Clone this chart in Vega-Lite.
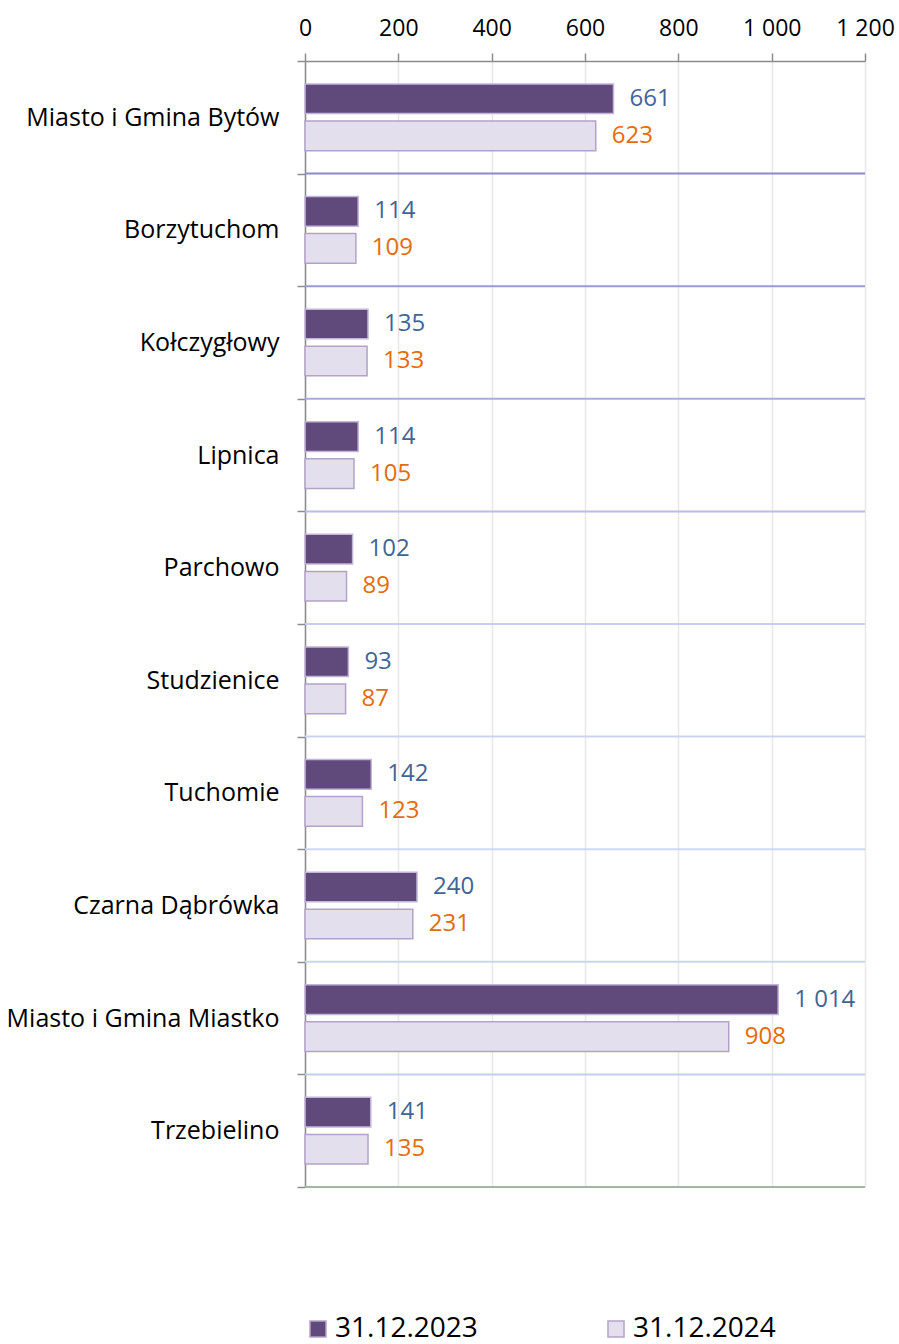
{
  "$schema": "https://vega.github.io/schema/vega-lite/v6.json",
  "width": 560,
  "height": 1126,
  "autosize": "none",
  "padding": {"left": 305, "top": 61, "right": 34, "bottom": 157},
  "config": {
    "view": {"stroke": null},
    "font": "Open Sans",
    "locale": {"number": {"decimal": ",", "thousands": " ", "grouping": [3], "currency": ["", " zł"]}}
  },
  "data": {
    "values": [
      {"gmina": "Miasto i Gmina Bytów", "rok": "31.12.2023", "wartosc": 661},
      {"gmina": "Miasto i Gmina Bytów", "rok": "31.12.2024", "wartosc": 623},
      {"gmina": "Borzytuchom", "rok": "31.12.2023", "wartosc": 114},
      {"gmina": "Borzytuchom", "rok": "31.12.2024", "wartosc": 109},
      {"gmina": "Kołczygłowy", "rok": "31.12.2023", "wartosc": 135},
      {"gmina": "Kołczygłowy", "rok": "31.12.2024", "wartosc": 133},
      {"gmina": "Lipnica", "rok": "31.12.2023", "wartosc": 114},
      {"gmina": "Lipnica", "rok": "31.12.2024", "wartosc": 105},
      {"gmina": "Parchowo", "rok": "31.12.2023", "wartosc": 102},
      {"gmina": "Parchowo", "rok": "31.12.2024", "wartosc": 89},
      {"gmina": "Studzienice", "rok": "31.12.2023", "wartosc": 93},
      {"gmina": "Studzienice", "rok": "31.12.2024", "wartosc": 87},
      {"gmina": "Tuchomie", "rok": "31.12.2023", "wartosc": 142},
      {"gmina": "Tuchomie", "rok": "31.12.2024", "wartosc": 123},
      {"gmina": "Czarna Dąbrówka", "rok": "31.12.2023", "wartosc": 240},
      {"gmina": "Czarna Dąbrówka", "rok": "31.12.2024", "wartosc": 231},
      {"gmina": "Miasto i Gmina Miastko", "rok": "31.12.2023", "wartosc": 1014},
      {"gmina": "Miasto i Gmina Miastko", "rok": "31.12.2024", "wartosc": 908},
      {"gmina": "Trzebielino", "rok": "31.12.2023", "wartosc": 141},
      {"gmina": "Trzebielino", "rok": "31.12.2024", "wartosc": 135}
    ]
  },
  "resolve": {"scale": {"stroke": "independent"}},
  "layer": [
    {
      "mark": {"type": "bar", "strokeWidth": 1.5},
      "encoding": {
        "y": {
          "field": "gmina", "type": "nominal", "sort": null,
          "scale": {"paddingInner": 0, "paddingOuter": 0,
            "domain": ["Miasto i Gmina Bytów", "Borzytuchom", "Kołczygłowy", "Lipnica", "Parchowo", "Studzienice", "Tuchomie", "Czarna Dąbrówka", "Miasto i Gmina Miastko", "Trzebielino"]},
          "axis": {
            "title": null, "orient": "left", "tickBand": "extent", "tickSize": 8,
            "domainColor": "#8c8c8c", "domainWidth": 1.5, "tickColor": "#8c8c8c", "tickWidth": 1.5,
            "labelFontSize": 25, "labelColor": "#000000", "labelPadding": 18, "labelLimit": 400, "grid": false
          }
        },
        "yOffset": {"field": "rok", "type": "nominal", "scale": {"paddingInner": 0.2, "paddingOuter": 0.62}},
        "x": {
          "field": "wartosc", "type": "quantitative",
          "scale": {"domain": [0, 1200], "nice": false},
          "axis": {
            "title": null, "orient": "top", "values": [0, 200, 400, 600, 800, 1000, 1200], "format": ",.0f",
            "tickSize": 8, "domainColor": "#8c8c8c", "domainWidth": 1.5, "tickColor": "#8c8c8c", "tickWidth": 1.5,
            "labelFontSize": 23, "labelColor": "#000000", "labelPadding": 13, "labelFlush": false,
            "grid": true, "gridColor": "#e8e8e8", "gridWidth": 1.5
          }
        },
        "fill": {
          "field": "rok", "type": "nominal",
          "scale": {"range": ["#604a7b", "#e4dfec"]},
          "legend": {
            "title": null, "orient": "none", "direction": "horizontal", "columns": 2,
            "legendX": -1, "legendY": 1254, "padding": 0, "symbolType": "square", "symbolSize": 256,
            "symbolStrokeWidth": 1.5, "symbolStrokeColor": "#b3a2c7", "labelFontSize": 28, "labelColor": "#000000",
            "columnPadding": 124, "labelOffset": 3
          }
        },
        "stroke": {
          "field": "rok", "type": "nominal",
          "scale": {"range": ["#c3b5d9", "#b3a2c7"]},
          "legend": null
        }
      }
    },
    {
      "mark": {"type": "text", "align": "left", "baseline": "middle", "dx": 16, "fontSize": 24},
      "encoding": {
        "y": {"field": "gmina", "type": "nominal", "sort": null},
        "yOffset": {"field": "rok", "type": "nominal"},
        "x": {"field": "wartosc", "type": "quantitative"},
        "text": {"field": "wartosc", "type": "quantitative", "format": ",.0f"},
        "color": {"field": "rok", "type": "nominal", "scale": {"range": ["#3f6597", "#e46c0a"]}, "legend": null}
      }
    },
    {
      "transform": [
        {"filter": "datum.rok === '31.12.2023' && datum.gmina !== 'Miasto i Gmina Bytów'"}
      ],
      "mark": {"type": "rule", "strokeWidth": 2},
      "encoding": {
        "y": {"field": "gmina", "type": "nominal", "sort": null, "bandPosition": 0},
        "stroke": {
          "field": "gmina", "type": "nominal", "sort": null, "legend": null,
          "scale": {"range": ["#8a8ad0", "#9a9ad8", "#aaaae2", "#b8bcea", "#c6cdf4", "#cbd3f5", "#cdd8f5", "#c8d6f0", "#c0d0e8"]}
        }
      }
    },
    {
      "transform": [
        {"filter": "datum.rok === '31.12.2023' && datum.gmina === 'Trzebielino'"}
      ],
      "mark": {"type": "rule", "strokeWidth": 2, "stroke": "#9fb89f"},
      "encoding": {
        "y": {"field": "gmina", "type": "nominal", "sort": null, "bandPosition": 1}
      }
    }
  ]
}
